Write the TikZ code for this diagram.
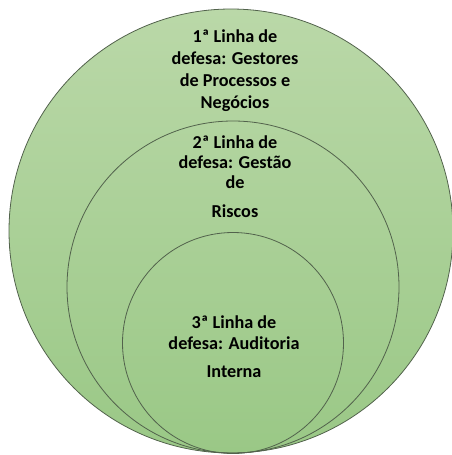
\documentclass[tikz,border=0pt]{standalone}
\usepackage{fontspec}
\setmainfont{Carlito}
\definecolor{topgreen}{RGB}{186,216,168}
\definecolor{botgreen}{RGB}{154,200,134}
\definecolor{rim}{RGB}{82,98,76}
\tikzset{
  ring/.style={draw=rim, line width=0.8pt},
  lbl/.style={anchor=base, inner sep=0pt, font=\fontsize{18.2}{21}\selectfont\bfseries}
}
\begin{document}
\begin{tikzpicture}[x=1pt,y=-1pt]
\useasboundingbox (0,0) rectangle (452,455);
% outer circle with gradient
\shade[top color=topgreen, bottom color=botgreen] (231,231) circle (222);
\draw[ring] (231,231) circle (222);
\draw[ring] (233,287) circle (166);
\draw[ring] (233,343) circle (110.5);
% first line of defence
\node[lbl] (a1) at (235,42) {1ª Linha de};
\node[lbl] (a2) at (235,64) {defesa: Gestores};
\node[lbl] (a3) at (235,86) {de Processos e};
\node[lbl] (a4) at (235,108) {Negócios};
% second line of defence
\node[lbl] (b1) at (235,148) {2ª Linha de};
\node[lbl] (b2) at (235,168) {defesa: Gestão};
\node[lbl] (b3) at (235,188) {de};
\node[lbl] (b4) at (235,217) {Riscos};
% third line of defence
\node[lbl] (c1) at (234,328) {3ª Linha de};
\node[lbl] (c2) at (234,349) {defesa: Auditoria};
\node[lbl] (c3) at (234,377) {Interna};
\end{tikzpicture}
\end{document}
